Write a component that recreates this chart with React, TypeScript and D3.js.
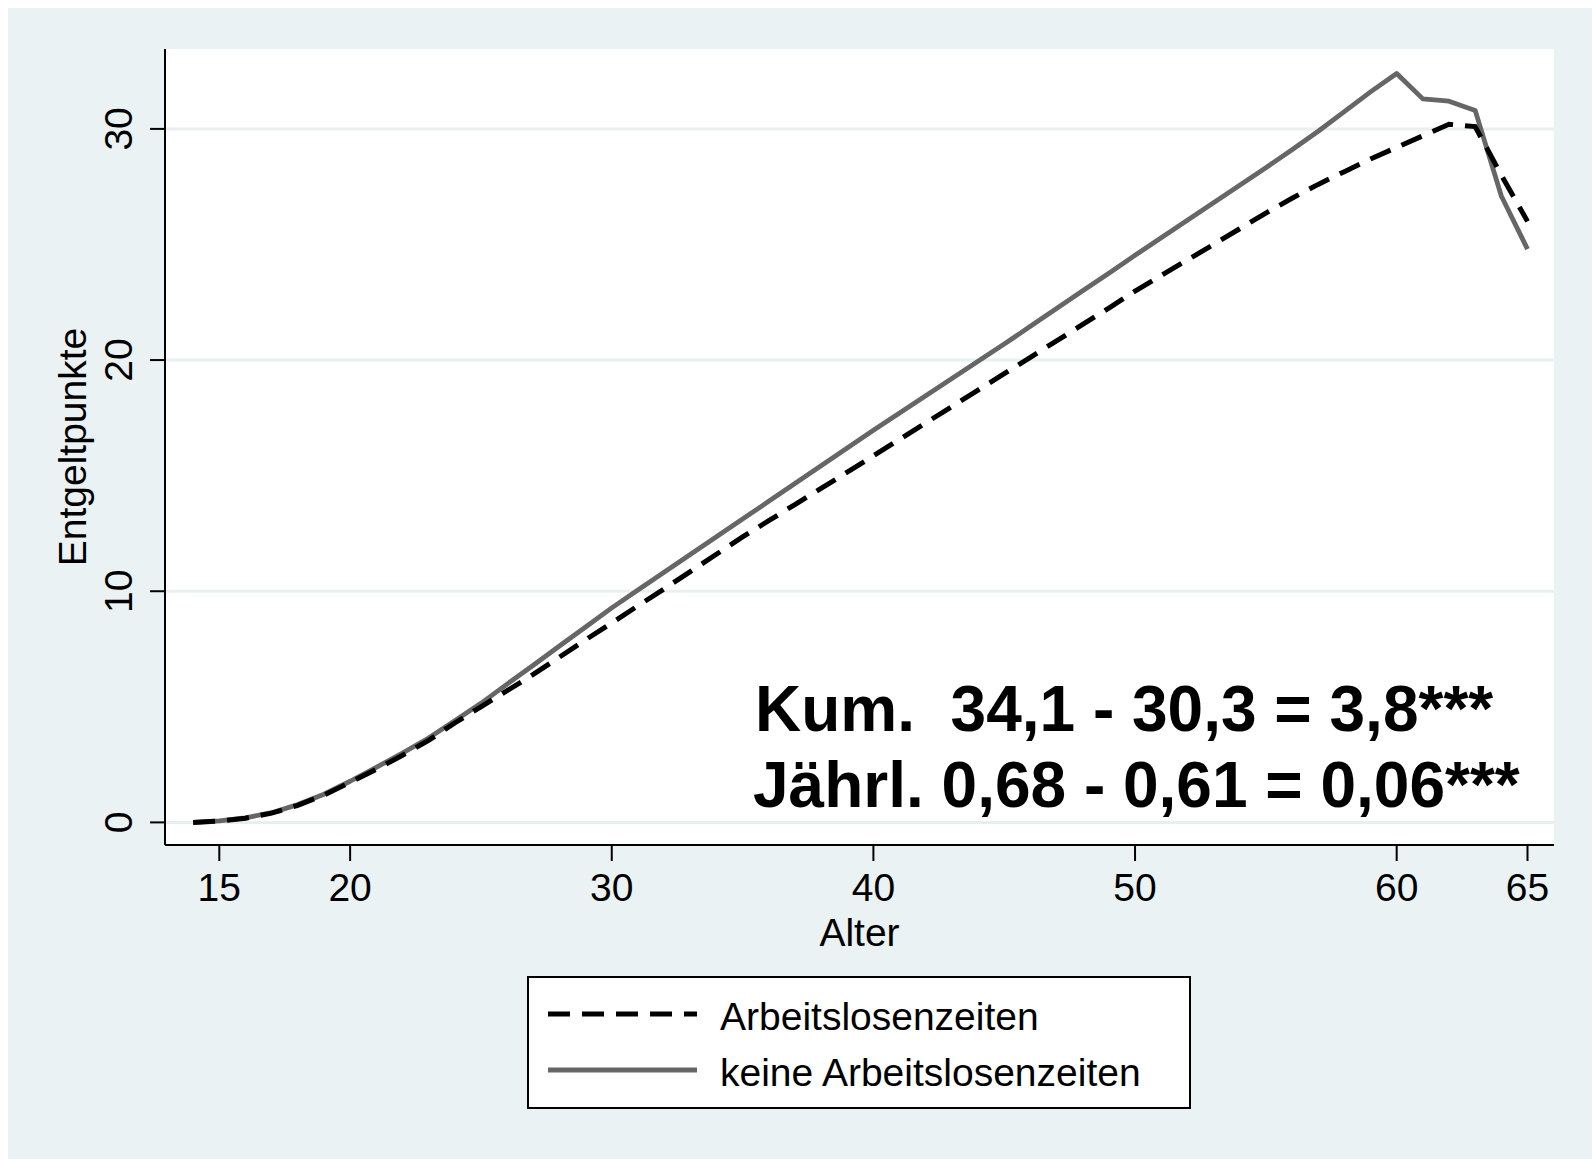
import React from 'react';
import * as d3 from 'd3';

// Alter 14..65
const ages = [14, 15, 16, 17, 18, 19, 20, 21, 22, 23, 24, 25, 26, 27, 28, 29, 30, 31, 32, 33, 34, 35, 36, 37, 38, 39, 40,
  41, 42, 43, 44, 45, 46, 47, 48, 49, 50, 51, 52, 53, 54, 55, 56, 57, 58, 59, 60, 61, 62, 63, 64, 65];

// Entgeltpunkte, kumuliert
const mitArbeitslosigkeit = [0, 0.06, 0.18, 0.4, 0.74, 1.18, 1.73, 2.3, 2.9, 3.55, 4.3, 5.0, 5.7, 6.4, 7.15, 7.9, 8.63,
  9.37, 10.1, 10.85, 11.6, 12.35, 13.05, 13.75, 14.45, 15.15, 15.86, 16.57, 17.28, 17.99, 18.7, 19.41,
  20.12, 20.83, 21.54, 22.25, 22.98, 23.66, 24.33, 25.0, 25.68, 26.36, 27.0, 27.6, 28.15, 28.7, 29.2,
  29.7, 30.2, 30.1, 28.0, 26.0];
const ohneArbeitslosigkeit = [0, 0.07, 0.2, 0.42, 0.77, 1.22, 1.78, 2.38, 3.0, 3.65, 4.4, 5.15, 5.98, 6.8, 7.63, 8.45, 9.28,
  10.05, 10.82, 11.59, 12.36, 13.12, 13.89, 14.66, 15.43, 16.2, 16.96, 17.71, 18.46, 19.2, 19.95, 20.69,
  21.46, 22.23, 23.0, 23.76, 24.53, 25.29, 26.05, 26.8, 27.56, 28.32, 29.1, 29.9, 30.75, 31.6, 32.4,
  31.3, 31.2, 30.8, 27.1, 24.8];

const xTicks = [15, 20, 30, 40, 50, 60, 65];
const yTicks = [0, 10, 20, 30];
const seriesNames = ['Arbeitslosenzeiten', 'keine Arbeitslosenzeiten'];
const noteLines = ['Kum.  34,1 - 30,3 = 3,8***', 'Jährl. 0,68 - 0,61 = 0,06***'];

const W = 1592;
const H = 1159;
const bg = 'rgb(234,242,243)';
const font = '"Liberation Sans", Arial, Helvetica, sans-serif';

// plot region
const left = 165;
const right = 1554;
const top = 49;
const bottom = 845;

export default function App() {
  const x = d3.scaleLinear().domain([15, 65]).range([219.3, 1527.5]);
  const y = d3.scaleLinear().domain([0, 30]).range([822.4, 128.9]);

  const line = d3.line<number>()
    .x((_, i) => x(ages[i]))
    .y(d => y(d));

  return (
    <svg width={W} height={H} style={{ position: 'absolute', left: 0, top: 0 }} fontFamily={font}>
      <rect x={0} y={0} width={W} height={H} fill="#fff" />
      <rect x={8} y={8} width={W - 8} height={H - 8} fill={bg} />
      <rect x={left} y={top} width={right - left} height={bottom - top} fill="#fff" />

      {/* grid */}
      {yTicks.map(t => (
        <line key={'g' + t} x1={left} x2={right} y1={y(t)} y2={y(t)} stroke="#e8eff1" strokeWidth={3} />
      ))}

      {/* axes */}
      <line x1={left} x2={left} y1={top} y2={bottom} stroke="#000" strokeWidth={2} />
      <line x1={left} x2={right} y1={bottom} y2={bottom} stroke="#000" strokeWidth={2} />
      {yTicks.map(t => (
        <g key={'y' + t}>
          <line x1={left - 15} x2={left} y1={y(t)} y2={y(t)} stroke="#000" strokeWidth={2} />
          <text transform={`translate(132,${y(t)}) rotate(-90)`} textAnchor="middle" fontSize={39} fill="#000">{t}</text>
        </g>
      ))}
      {xTicks.map(t => (
        <g key={'x' + t}>
          <line x1={x(t)} x2={x(t)} y1={bottom} y2={bottom + 16} stroke="#000" strokeWidth={2} />
          <text x={x(t)} y={901} textAnchor="middle" fontSize={39} fill="#000">{t}</text>
        </g>
      ))}
      <text x={(left + right) / 2} y={946} textAnchor="middle" fontSize={39}>Alter</text>
      <text transform={`translate(86,${(top + bottom) / 2}) rotate(-90)`} textAnchor="middle" fontSize={39}>Entgeltpunkte</text>

      {/* lines */}
      <path d={line(ohneArbeitslosigkeit) || ''} fill="none" stroke="#666" strokeWidth={4.8} strokeLinejoin="round" />
      <path d={line(mitArbeitslosigkeit) || ''} fill="none" stroke="#000" strokeWidth={5} strokeDasharray="22 12" />

      {/* annotation */}
      <text x={755} y={731} fontSize={64} fontWeight="bold" style={{ whiteSpace: 'pre' }}>{noteLines[0]}</text>
      <text x={753} y={807} fontSize={64} fontWeight="bold" style={{ whiteSpace: 'pre' }}>{noteLines[1]}</text>

      {/* legend */}
      <rect x={528} y={977} width={662} height={131} fill="#fff" stroke="#000" strokeWidth={2} />
      <line x1={548} x2={697} y1={1014} y2={1014} stroke="#000" strokeWidth={5} strokeDasharray="22 12" />
      <line x1={548} x2={697} y1={1070} y2={1070} stroke="#666" strokeWidth={4.8} />
      <text x={720} y={1030} fontSize={39}>{seriesNames[0]}</text>
      <text x={720} y={1086} fontSize={39}>{seriesNames[1]}</text>
    </svg>
  );
}
